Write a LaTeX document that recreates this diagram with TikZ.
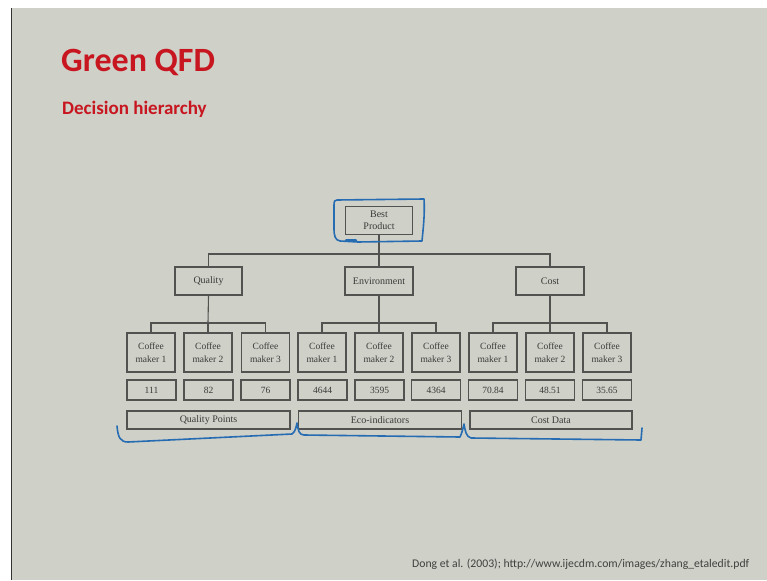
\documentclass[tikz,border=0pt]{standalone}
\usepackage{fontspec}
\setmainfont{Liberation Serif}
\newfontfamily\slidefont{Carlito}
\definecolor{slidebg}{RGB}{207,208,200}
\definecolor{titlered}{RGB}{200,22,32}
\definecolor{boxline}{RGB}{82,82,80}
\definecolor{boxtext}{RGB}{58,58,56}
\definecolor{penblue}{RGB}{38,108,178}
\definecolor{citegray}{RGB}{64,64,62}
\tikzset{
  hbox/.style={draw=boxline, line width=1.1pt, text=boxtext, align=center,
    inner sep=0pt, font=\fontsize{10}{12.5}\selectfont},
  upper/.style={hbox, minimum width=67pt, minimum height=28pt},
  maker/.style={hbox, minimum width=48pt, minimum height=39pt, font=\fontsize{9.5}{13}\selectfont},
  value/.style={hbox, minimum width=49pt, minimum height=20pt, font=\fontsize{9.5}{11}\selectfont},
  source/.style={hbox, minimum width=163pt, minimum height=18pt},
  wire/.style={draw=boxline, line width=1.1pt},
  pen/.style={draw=penblue, line width=1.6pt, line cap=round, line join=round}
}
\begin{document}
\begin{tikzpicture}[x=1pt, y=-1pt]
  % page and slide area
  \useasboundingbox (0,0) rectangle (767,580);
  \fill[white] (0,0) rectangle (767,580);
  \fill[slidebg] (12,8) rectangle (767,580);
  \draw[black!80, line width=1.6pt] (11.5,8) -- (11.5,580);

  % headings
  \node[anchor=base west, inner sep=0pt, text=titlered,
        font=\slidefont\bfseries\fontsize{34}{40}\selectfont] (title) at (61,72) {Green QFD};
  \node[anchor=base west, inner sep=0pt, text=titlered,
        font=\slidefont\bfseries\fontsize{19}{22}\selectfont] (subtitle) at (62,115) {Decision hierarchy};

  % goal and criteria
  \node[upper] (best) at (379,220.5) {Best\\Product};
  \node[upper] (qual) at (208.5,281) {Quality};
  \node[upper, minimum width=68pt] (env) at (379,281) {Environment};
  \node[upper, minimum width=68pt] (cost) at (550,281) {Cost};

  % alternatives
  \foreach \i/\x in {1/151,2/208,3/265.5}{
    \node[maker] (q\i) at (\x,352.5) {Coffee\\maker \i};}
  \foreach \i/\x in {1/322,2/379,3/436}{
    \node[maker] (e\i) at (\x,352.5) {Coffee\\maker \i};}
  \foreach \i/\x in {1/493,2/550,3/607}{
    \node[maker] (c\i) at (\x,352.5) {Coffee\\maker \i};}

  % scores
  \node[value] (qv1) at (151.5,390) {111};
  \node[value] (qv2) at (208.5,390) {82};
  \node[value] (qv3) at (265.5,390) {76};
  \node[value] (ev1) at (322.5,390) {4644};
  \node[value] (ev2) at (379.5,390) {3595};
  \node[value] (ev3) at (436,390) {4364};
  \node[value] (cv1) at (493,390) {70.84};
  \node[value] (cv2) at (550,390) {48.51};
  \node[value] (cv3) at (607,390) {35.65};

  % data sources
  \node[source] (qp) at (208.5,420) {Quality Points};
  \node[source] (eco) at (380,420) {Eco-indicators};
  \node[source, minimum width=162pt] (cd) at (551,420) {Cost Data};

  % tree connectors
  \coordinate (topbus) at (379,254);
  \draw[wire] (best.south) -- (topbus);
  \draw[wire] (qual.north) |- (topbus) -| (cost.north);
  \draw[wire] (topbus) -- (env.north);

  \coordinate (qbus) at (208,323);
  \draw[wire] (qual.south) -- (qbus);
  \draw[wire] (q1.north) |- (qbus) -| (q3.north);
  \draw[wire] (qbus) -- (q2.north);

  \coordinate (ebus) at (379,323);
  \draw[wire] (env.south) -- (ebus);
  \draw[wire] (e1.north) |- (ebus) -| (e3.north);
  \draw[wire] (ebus) -- (e2.north);

  \coordinate (cbus) at (550,323);
  \draw[wire] (cost.south) -- (cbus);
  \draw[wire] (c1.north) |- (cbus) -| (c3.north);
  \draw[wire] (cbus) -- (c2.north);

  % hand-drawn annotations
  \draw[pen] (337,200) -- (424,199) .. controls (425,215) and (423,230) .. (422,241)
    -- (358,242) -- (340,241) .. controls (335,240) and (334,236) .. (334,228)
    -- (334,205) .. controls (334,201) and (335,200) .. (337,200);
  \draw[pen, line width=2.4pt] (346,240.5) -- (356,240.5);

  \draw[pen] (117,426) .. controls (118,437) and (120,442) .. (128,442)
    -- (292,434) .. controls (295,432) and (296,428) .. (297,423)
    .. controls (298,430) and (299,435) .. (304,435)
    -- (460,437) .. controls (462,433) and (463,428) .. (464,424)
    .. controls (465,430) and (466,437) .. (471,438)
    -- (641,440) -- (642,428);

  % citation
  \node[anchor=base west, inner sep=0pt, text=citegray,
        font=\slidefont\fontsize{11.7}{13}\selectfont] (cite) at (412,567)
        {Dong et al. (2003); http://www.ijecdm.com/images/zhang\_etaledit.pdf};
\end{tikzpicture}
\end{document}
